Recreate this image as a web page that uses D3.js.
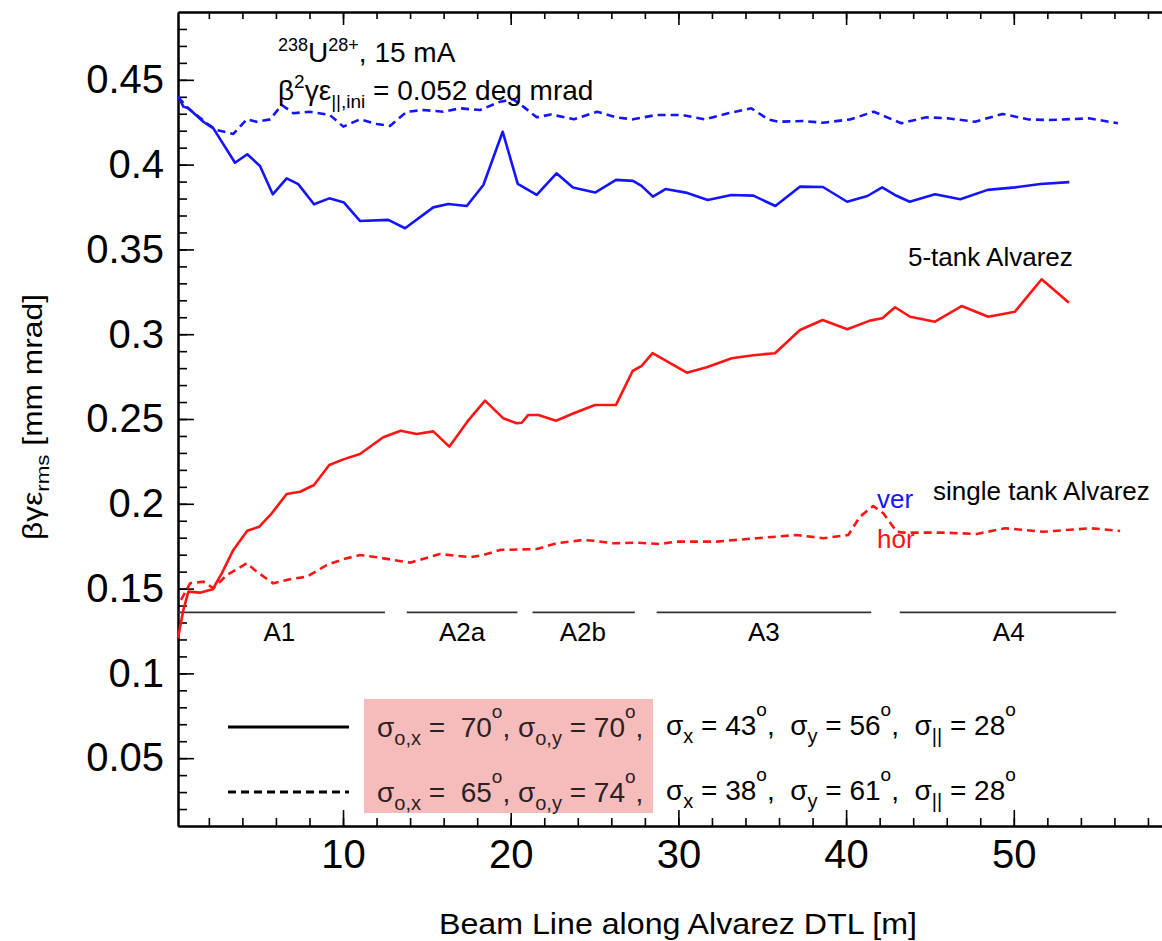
<!DOCTYPE html>
<html>
<head>
<meta charset="utf-8">
<script src="https://cdn.jsdelivr.net/npm/d3@7"></script>
<style>
  body { margin: 0; background: #fff; }
  svg text { font-family: "Liberation Sans", Arial, sans-serif; white-space: pre; }
</style>
</head>
<body>
<div id="vis"></div>
<script>
var w = 1162;
var h = 941;

// emittance along the DTL, [position m, value mm mrad]
var verSolid = [[0.16,0.4405],[0.48,0.4342],[0.78,0.4332],[1.67,0.4253],[2.27,0.4214],[3.56,0.4011],[4.29,0.4061],[5.05,0.3992],[5.81,0.3825],[6.64,0.3919],[7.33,0.3885],[8.27,0.3766],[9.18,0.3801],[10.06,0.3776],[11.01,0.3668],[12.70,0.3674],[13.70,0.3625],[15.38,0.3748],[16.28,0.3768],[17.38,0.3756],[18.37,0.3880],[19.52,0.4194],[20.42,0.3886],[21.55,0.3821],[22.73,0.3949],[23.71,0.3865],[25.03,0.3835],[26.28,0.3910],[27.29,0.3904],[27.80,0.3875],[28.48,0.3811],[29.23,0.3856],[30.44,0.3835],[31.75,0.3792],[33.16,0.3821],[34.47,0.3817],[35.78,0.3756],[37.24,0.3870],[38.62,0.3868],[40.06,0.3781],[41.27,0.3815],[42.15,0.3866],[42.91,0.3821],[43.79,0.3781],[45.30,0.3825],[46.81,0.3796],[48.44,0.3851],[50.08,0.3866],[51.59,0.3886],[53.31,0.3897]];
var verDashed = [[0.16,0.4399],[0.76,0.4333],[1.87,0.4244],[2.47,0.4204],[3.46,0.4181],[4.26,0.4267],[4.85,0.4253],[5.65,0.4267],[6.35,0.4352],[7.04,0.4303],[8.03,0.4312],[9.22,0.4292],[10.02,0.4224],[11.01,0.4267],[12.01,0.4240],[12.80,0.4228],[13.80,0.4312],[14.79,0.4322],[15.98,0.4312],[16.98,0.4332],[18.17,0.4322],[19.36,0.4371],[20.16,0.4385],[20.75,0.4342],[21.55,0.4279],[22.40,0.4296],[23.77,0.4267],[25.15,0.4312],[26.28,0.4279],[27.29,0.4267],[28.68,0.4293],[30.19,0.4293],[31.57,0.4267],[32.96,0.4303],[34.35,0.4332],[35.35,0.4267],[35.98,0.4253],[37.49,0.4257],[38.62,0.4247],[40.26,0.4267],[41.65,0.4312],[43.29,0.4244],[44.79,0.4279],[46.05,0.4273],[47.69,0.4253],[49.33,0.4299],[50.84,0.4267],[52.10,0.4263],[54.48,0.4273],[56.21,0.4244]];
var horSolid = [[0.16,0.1208],[0.48,0.1374],[0.78,0.1482],[1.47,0.1476],[2.23,0.1496],[2.77,0.1590],[3.46,0.1728],[4.29,0.1841],[5.01,0.1865],[5.75,0.1944],[6.64,0.2058],[7.44,0.2071],[8.27,0.2111],[9.18,0.2229],[10.02,0.2262],[11.01,0.2294],[12.40,0.2392],[13.44,0.2431],[14.39,0.2412],[15.38,0.2427],[16.34,0.2337],[17.41,0.2484],[18.47,0.2608],[19.56,0.2504],[20.36,0.2475],[20.66,0.2478],[21.05,0.2524],[21.65,0.2524],[22.70,0.2490],[23.83,0.2537],[25.03,0.2583],[26.28,0.2583],[27.27,0.2783],[27.81,0.2813],[28.46,0.2888],[30.50,0.2773],[31.69,0.2805],[33.18,0.2858],[34.47,0.2876],[35.76,0.2888],[37.25,0.3025],[38.60,0.3084],[40.07,0.3029],[41.42,0.3080],[42.16,0.3094],[42.92,0.3159],[43.81,0.3103],[45.30,0.3074],[46.89,0.3166],[48.48,0.3103],[50.07,0.3133],[51.66,0.3324],[53.29,0.3186]];
var horDashed = [[0.34,0.1433],[0.88,0.1531],[1.67,0.1541],[2.27,0.1502],[3.07,0.1580],[4.26,0.1649],[4.85,0.1600],[5.84,0.1531],[6.84,0.1555],[7.84,0.1570],[9.03,0.1639],[10.02,0.1673],[11.01,0.1698],[12.01,0.1685],[14.00,0.1653],[15.78,0.1704],[17.57,0.1685],[18.37,0.1698],[19.36,0.1728],[21.55,0.1733],[22.74,0.1767],[24.33,0.1787],[24.93,0.1782],[26.12,0.1767],[27.51,0.1771],[28.90,0.1763],[29.90,0.1777],[32.28,0.1777],[34.67,0.1797],[37.05,0.1816],[38.64,0.1797],[40.13,0.1816],[40.83,0.1924],[41.62,0.1987],[42.22,0.1944],[43.02,0.1835],[43.41,0.1830],[45.80,0.1830],[47.79,0.1822],[49.48,0.1856],[51.76,0.1835],[54.56,0.1856],[56.34,0.1840]];

// tank sections
var tankNames = ["A1", "A2a", "A2b", "A3", "A4"];
var tankStart = [0.16, 13.8, 21.3, 28.7, 43.2];
var tankEnd = [12.5, 20.4, 27.4, 41.5, 56.1];
var tankLabelX = [6.2, 17.1, 24.3, 35.1, 49.7];
var tankLevel = 0.136;

// ticks
var xMajor = [10, 20, 30, 40, 50];
var xMinor = d3.range(2, 60, 2);
var yMajor = [0.05, 0.1, 0.15, 0.2, 0.25, 0.3, 0.35, 0.4, 0.45];
var yMinor = d3.range(2, 49).map(function(i) { return i / 100; });

var canvas = d3.select("#vis").append("svg")
    .attr("width", w)
    .attr("height", h);

var x = d3.scaleLinear().domain([0.16, 60]).range([178, 1181.5]);
var y = d3.scaleLinear().domain([0.01, 0.49]).range([826, 12]);

function styleAxis(g) {
    g.select(".domain").attr("stroke", "#000").attr("stroke-width", 2);
    g.selectAll(".tick line").attr("stroke", "#000").attr("stroke-width", 1.6);
    g.selectAll(".tick text").attr("fill", "#000")
        .style("font-family", "'Liberation Sans', Arial, sans-serif")
        .style("font-size", "40px");
}

// bottom
canvas.append("g").attr("transform", "translate(0,826)")
    .call(d3.axisBottom(x).tickValues(xMinor).tickSize(-8).tickSizeOuter(0).tickFormat(""))
    .call(styleAxis);
canvas.append("g").attr("transform", "translate(0,826)")
    .call(d3.axisBottom(x).tickValues(xMajor).tickSize(-16).tickSizeOuter(0).tickPadding(14).tickFormat(d3.format("d")))
    .call(styleAxis);
// top
canvas.append("g").attr("transform", "translate(0,12)")
    .call(d3.axisTop(x).tickValues(xMinor).tickSize(-7).tickSizeOuter(0).tickFormat(""))
    .call(styleAxis);
canvas.append("g").attr("transform", "translate(0,12)")
    .call(d3.axisTop(x).tickValues(xMajor).tickSize(-13).tickSizeOuter(0).tickFormat(""))
    .call(styleAxis);
// left
canvas.append("g").attr("transform", "translate(178,0)")
    .call(d3.axisLeft(y).tickValues(yMinor).tickSize(-9).tickSizeOuter(0).tickFormat(""))
    .call(styleAxis);
canvas.append("g").attr("transform", "translate(178,0)")
    .call(d3.axisLeft(y).tickValues(yMajor).tickSize(-16).tickSizeOuter(0).tickPadding(14).tickFormat(function(d) { return String(d); }))
    .call(styleAxis);

// tank sections
var tanks = canvas.append("g");
tanks.selectAll("line").data(tankNames).enter().append("line")
    .attr("x1", function(d, i) { return x(tankStart[i]); })
    .attr("x2", function(d, i) { return x(tankEnd[i]); })
    .attr("y1", y(tankLevel)).attr("y2", y(tankLevel))
    .attr("stroke", "#333").attr("stroke-width", 1.6);
tanks.selectAll("text").data(tankNames).enter().append("text")
    .attr("x", function(d, i) { return x(tankLabelX[i]); })
    .attr("y", y(tankLevel) + 29)
    .attr("text-anchor", "middle")
    .style("font-size", "26px")
    .text(function(d) { return d; });

var line = d3.line().x(function(d) { return x(d[0]); }).y(function(d) { return y(d[1]); });

var series = [
    {data: verDashed, color: "#1414ff", dash: "8,5"},
    {data: verSolid, color: "#1414ff", dash: null},
    {data: horDashed, color: "#ff1414", dash: "8,5"},
    {data: horSolid, color: "#ff1414", dash: null}
];
canvas.selectAll(".curve").data(series).enter().append("path")
    .attr("class", "curve")
    .attr("d", function(d) { return line(d.data); })
    .attr("fill", "none")
    .attr("stroke", function(d) { return d.color; })
    .attr("stroke-width", 2.6)
    .attr("stroke-linejoin", "round")
    .attr("stroke-dasharray", function(d) { return d.dash; });

// annotation top-left
var t1 = canvas.append("text").attr("x", 278).attr("y", 62).style("font-size", "28px");
t1.append("tspan").attr("dy", -11).style("font-size", "18px").text("238");
t1.append("tspan").attr("dy", 11).text("U");
t1.append("tspan").attr("dy", -11).style("font-size", "18px").text("28+");
t1.append("tspan").attr("dy", 11).text(", 15 mA");

var t2 = canvas.append("text").attr("x", 278).attr("y", 100).style("font-size", "28px");
t2.append("tspan").text("β");
t2.append("tspan").attr("dy", -12).style("font-size", "19px").text("2");
t2.append("tspan").attr("dy", 12).text("γε");
t2.append("tspan").attr("dy", 8).style("font-size", "19px").text("||,ini");
t2.append("tspan").attr("dy", -8).text(" = 0.052 deg mrad");

// curve labels
canvas.append("text").attr("x", 908).attr("y", 266).style("font-size", "26px").text("5-tank Alvarez");
canvas.append("text").attr("x", 933).attr("y", 500).style("font-size", "26px").text("single tank Alvarez");
canvas.append("text").attr("x", 877).attr("y", 508).style("font-size", "26px").attr("fill", "#1414ff").text("ver");
canvas.append("text").attr("x", 877).attr("y", 548).style("font-size", "26px").attr("fill", "#ff1414").text("hor");

// legend
canvas.append("rect").attr("x", 364).attr("y", 699).attr("width", 289).attr("height", 114).attr("fill", "#f6bcbc");
canvas.append("line").attr("x1", 228).attr("x2", 349).attr("y1", 727).attr("y2", 727)
    .attr("stroke", "#000").attr("stroke-width", 3);
canvas.append("line").attr("x1", 228).attr("x2", 349).attr("y1", 792).attr("y2", 792)
    .attr("stroke", "#000").attr("stroke-width", 3).attr("stroke-dasharray", "8,5");

var legendRows = [
    {y: 737, ox: "70", oy: "70", sx: "43", sy: "56", sl: "28"},
    {y: 802, ox: "65", oy: "74", sx: "38", sy: "61", sl: "28"}
];

function addSub(t, txt) { t.append("tspan").attr("dy", 8).style("font-size", "20px").text(txt); }
function addSup(t, txt) { t.append("tspan").attr("dy", -19).style("font-size", "19px").text(txt); }

legendRows.forEach(function(r) {
    var a = canvas.append("text").attr("x", 377).attr("y", r.y).attr("fill", "#2a2222").style("font-size", "28px");
    a.append("tspan").text("σ");
    addSub(a, "o,x");
    a.append("tspan").attr("dy", -8).text(" =  " + r.ox);
    addSup(a, "o");
    a.append("tspan").attr("dy", 19).text(", σ");
    addSub(a, "o,y");
    a.append("tspan").attr("dy", -8).text(" = " + r.oy);
    addSup(a, "o");
    a.append("tspan").attr("dy", 19).text(",");

    var b = canvas.append("text").attr("x", 666).attr("y", r.y - 2).attr("fill", "#000").style("font-size", "28px");
    b.append("tspan").text("σ");
    addSub(b, "x");
    b.append("tspan").attr("dy", -8).text(" = " + r.sx);
    addSup(b, "o");
    b.append("tspan").attr("dy", 19).text(",  σ");
    addSub(b, "y");
    b.append("tspan").attr("dy", -8).text(" = " + r.sy);
    addSup(b, "o");
    b.append("tspan").attr("dy", 19).text(",  σ");
    addSub(b, "||");
    b.append("tspan").attr("dy", -8).text(" = " + r.sl);
    addSup(b, "o");
});

// axis titles
canvas.append("text").attr("x", 678).attr("y", 934).attr("text-anchor", "middle")
    .attr("textLength", 478).attr("lengthAdjust", "spacingAndGlyphs")
    .style("font-size", "30px").text("Beam Line along Alvarez DTL [m]");

var yl = canvas.append("text")
    .attr("transform", "translate(42,417) rotate(-90)")
    .attr("text-anchor", "middle")
    .attr("textLength", 246).attr("lengthAdjust", "spacingAndGlyphs")
    .style("font-size", "27px");
yl.append("tspan").text("βγε");
yl.append("tspan").attr("dy", 7).style("font-size", "19px").text("rms");
yl.append("tspan").attr("dy", -7).text(" [mm mrad]");
</script>
</body>
</html>
